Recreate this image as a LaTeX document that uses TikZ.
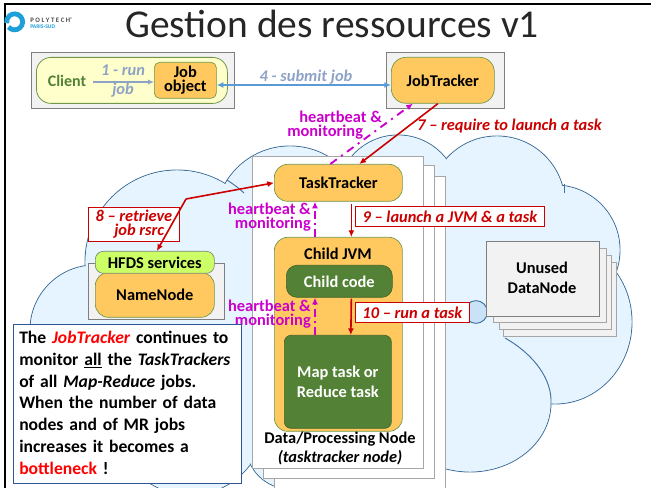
\documentclass[tikz,border=0pt]{standalone}
\usepackage{fontspec}
\setmainfont{Carlito}
\usetikzlibrary{arrows.meta, positioning}
\definecolor{cloudfill}{RGB}{229,244,255}
\definecolor{cloudline}{RGB}{65,113,156}
\definecolor{greyfill}{RGB}{242,242,242}
\definecolor{greyline}{RGB}{127,127,127}
\definecolor{sheetline}{RGB}{166,166,166}
\definecolor{jobyellow}{RGB}{255,201,95}
\definecolor{boxgreen}{RGB}{112,151,74}
\definecolor{darkgreen}{RGB}{83,129,53}
\definecolor{paleyellow}{RGB}{255,255,204}
\definecolor{limegreen}{RGB}{204,255,102}
\definecolor{stepblue}{RGB}{142,162,198}
\definecolor{linkblue}{RGB}{91,155,213}
\definecolor{stepred}{RGB}{204,0,0}
\definecolor{beat}{RGB}{204,0,204}
\definecolor{noteline}{RGB}{47,85,151}
\definecolor{polyblue}{RGB}{29,159,217}
\tikzset{
	sz/.style 2 args={minimum width=#1*0.75pt,minimum height=#2*0.75pt,inner sep=0pt,anchor=north west},
	lab/.style={font=\fontsize{12.3}{15}\selectfont\bfseries,align=center,inner sep=0pt},
	greybox/.style={draw=greyline,fill=greyfill,line width=0.7pt},
	sheet/.style={draw=sheetline,fill=white,line width=0.9pt},
	jobbox/.style={draw=boxgreen,fill=jobyellow,rounded corners=10pt,line width=0.5pt,lab},
	codebox/.style={draw=darkgreen!80!black,fill=darkgreen,text=white,rounded corners=8pt,line width=0.5pt,lab},
	steptext/.style={font=\fontsize{12.3}{15}\selectfont\bfseries\itshape,text=stepblue,inner sep=0pt},
	redtext/.style={font=\fontsize{12.3}{10.5}\selectfont\bfseries\itshape,text=stepred,inner sep=0pt,align=center},
	redbox/.style={redtext,draw=stepred,fill=white,line width=0.6pt},
	beattext/.style={font=\fontsize{12.3}{10.5}\selectfont\bfseries,text=beat,inner sep=0pt},
	redarrow/.style={draw=stepred,line width=1.2pt,-{Latex[length=5pt,width=4.5pt]}},
	beatarrow/.style={draw=beat,line width=1.4pt,-{Latex[length=5pt,width=4.5pt]}},
}
\begin{document}
\begin{tikzpicture}[x=0.75pt,y=-0.75pt]
	\useasboundingbox (0,0) rectangle (651,488);
	\clip (0,0) rectangle (651,488);
	%----------------------------------------------------------------
	% cloud: outline of every lobe first, then the fill over it
	\foreach \cx/\cy/\rx/\ry in {177/262/92/92, 95/330/65/65, 290/221/75/75, 398/196/61/61, 497/204/68/68, 555/250/65/65, 555/322/77/82, 470/403/81/69, 190/420/75/75, 290/445/44/44}
		\draw[cloudline,line width=0.7pt] (\cx,\cy) ellipse [x radius=\rx,y radius=\ry];
	\foreach \cx/\cy/\rx/\ry in {177/262/92/92, 95/330/65/65, 290/221/75/75, 398/196/61/61, 497/204/68/68, 555/250/65/65, 555/322/77/82, 470/403/81/69, 190/420/75/75, 290/445/44/44}
		\fill[cloudfill] (\cx,\cy) ellipse [x radius=\rx-0.6,y radius=\ry-0.6];
	\fill[cloudfill] (120,300) rectangle (540,395);
	\fill[cloudfill] (230,200) rectangle (560,300);
	\draw[cloudline,line width=0.7pt] (227,180) .. controls (233,184) and (239,188) .. (244,193);
	\draw[cloudline,line width=0.7pt] (564,184) -- (564,193);
	\draw[cloudline,line width=0.7pt] (505,338) .. controls (535,355) and (552,380) .. (551,403);
	\draw[line width=1.6pt] (5,488) -- (5,4) -- (651,4);
	%----------------------------------------------------------------
	% logo and title
	\draw[polyblue,line width=3.6pt] (8.5,27) arc [start angle=140,end angle=-190,radius=8];
	\node(polytech) [inner sep=0pt,anchor=west,font=\fontsize{5.1}{6}\selectfont\bfseries,text=black!70] at (30,20.5) {P O L Y T E C H'};
	\node(parissud) [inner sep=0pt,anchor=west,font=\fontsize{4.2}{5}\selectfont\bfseries,text=polyblue] at (30,26.5) {PARIS-SUD};
	\node(title) [inner sep=0pt,text=black!85,font=\fontsize{29.6}{32}\selectfont] at (332,24) {Gestion des ressources v1};
	%----------------------------------------------------------------
	\node(clientbg) [greybox,sz={203}{56}] at (31,52) {};
	\node(clientbox) [draw=boxgreen,fill=paleyellow,rounded corners=11pt,line width=0.6pt,sz={191}{46}] at (36,57) {};
	\node(client) [lab,text=darkgreen,font=\fontsize{12}{14}\selectfont\bfseries] at (67,81) {Client};
	\node(jobobject) [jobbox,rounded corners=4pt,sz={62}{36}] at (154,62) {Job\\[-4.5pt]object};
	\node(run) [steptext] at (123,70) {1 - run};
	\node(job) [steptext] at (123,90) {job};
	\coordinate (clientout) at (93,82);
	\draw[stepblue,line width=1pt,-{Latex[length=4.5pt,width=4pt]}] (clientout) -- (clientout -| jobobject.west);
	
	\node(jobtrackerbg) [greybox,sz={118}{56}] at (386,52) {};
	\node(jobtracker) [jobbox,rounded corners=11pt,sz={103}{46}] at (391,57) {JobTracker};
	\draw[linkblue,line width=1.1pt,{Latex[length=5pt,width=4.5pt]}-{Latex[length=5pt,width=4.5pt]}] (jobobject.east |- 0,85) -- (jobtracker.west |- 0,85);
	\node(submit) [steptext] at (306,77) {4 - submit job};
	%---------------------------------------------------------------
	% stacked processing nodes
	\node(sheetc) [sheet,sz={171}{330}] at (274,176) {};
	\node(sheetb) [sheet,sz={171}{313}] at (263,165) {};
	\node(sheeta) [sheet,sz={171}{312}] at (252,156) {};
	
	\node(tasktracker) [jobbox,sz={128}{37}] at (274,164) {TaskTracker};
	\node(childjvm) [jobbox,sz={128}{194}] at (274,237) {};
	\node(childlabel) [lab] at (338,254) {Child JVM};
	\node(childcode) [codebox,sz={106}{32}] at (286,265) {Child code};
	\node(maptask) [codebox,rounded corners=5pt,sz={107}{93}] at (284,335) {Map task or\\Reduce task};
	\node(datanode) [lab,anchor=north] at (340,432) {Data/Processing Node\\[-0.75pt]\itshape (tasktracker node)};
	%---------------------------------------------------------------
	% unused data nodes
	\node(bubble) [circle,draw=cloudline,fill=cloudfill!80!linkblue,line width=0.7pt,minimum size=17pt,inner sep=0pt] at (476,312) {};
	\node(unusedd) [greybox,draw=sheetline,line width=0.9pt,sz={113}{74}] at (503,262) {};
	\node(unusedc) [greybox,draw=sheetline,line width=0.9pt,sz={112}{74}] at (499,255) {};
	\node(unusedb) [greybox,draw=sheetline,line width=0.9pt,sz={113}{74}] at (493,248) {};
	\node(unuseda) [greybox,sz={113}{75}] at (486,241) {};
	\node(unusedlabel) [lab] at (542,278) {Unused\\DataNode};
	%---------------------------------------------------------------
	% name node
	\node(hfdsbg) [greybox,sz={136}{56}] at (88,263) {};
	\node(namenode) [jobbox,sz={119}{45}] at (95,272) {NameNode};
	\node(hfds) [draw=greyline!80!boxgreen,fill=limegreen,rounded corners=6pt,line width=0.5pt,lab,sz={119}{22}] at (95,251) {HFDS services};
	%---------------------------------------------------------------
	% red steps
	\node(seven) [redtext,anchor=west] at (417,126) {7 – require to launch a task};
	\draw[redarrow] ([xshift=-5*0.75pt]jobtracker.south) -- ([xshift=21*0.75pt]tasktracker.north);
	
	\coordinate (bend) at (186,199);
	\node(eight) [redbox,sz={91}{34}] at (88,207) {};
	\node(eightlabel) [redtext,anchor=center] at (eight.center) {8 – retrieve\\\hspace*{8pt}job rsrc};
	\draw[redarrow] (bend) -- (tasktracker.west);
	\draw[redarrow] (bend) -- ([xshift=2*0.75pt]hfds.north);
	
	\node(nine) [redbox,sz={189}{20}] at (355,206) {9 – launch a JVM \& a task};
	\draw[redarrow] ([xshift=13*0.75pt]tasktracker.south) ++(0,2) -- ([xshift=13*0.75pt]childjvm.north);
	\node(ten) [redbox,sz={114}{20}] at (355,302) {10 – run a task};
	\draw[redarrow] ([xshift=13*0.75pt]childcode.south) ++(-1,1) -- ([xshift=13*0.75pt,yshift=0pt]maptask.north);
	%---------------------------------------------------------------
	% heartbeats
	\node(beata) [beattext,anchor=north west,align=left] at (287,111) {\hspace*{9pt}heartbeat \&\\monitoring};
	\draw[beatarrow,dash pattern=on 6pt off 4pt on 1.5pt off 4pt] ([xshift=-8*0.75pt]tasktracker.north) -- ([xshift=-30*0.75pt]jobtracker.south);
	\node(beatb) [beattext,anchor=north east,align=right] at (311,203) {heartbeat \&\\monitoring};
	\draw[beatarrow,dash pattern=on 6pt off 3pt on 1.5pt off 3pt] (childjvm.north -| 315,0) -- (tasktracker.south -| 315,0);
	\node(beatc) [beattext,anchor=north east,align=right] at (311,300) {heartbeat \&\\monitoring};
	\draw[beatarrow,dash pattern=on 6pt off 3pt on 1.5pt off 3pt] (maptask.north -| 315,0) -- (childcode.south -| 315,0);
	%----------------------------------------------------------
	\node(note) [draw=noteline,fill=white,line width=1pt,sz={228}{159}] at (13,324) {};
	\node(notetext) [anchor=north west,inner sep=0pt,text width=225*0.75pt,align=left,font=\fontsize{13.2}{16.3}\selectfont\bfseries] at (19,331) {The {\color{red}\itshape JobTracker} continues to\\
		monitor \underline{all} the {\itshape TaskTrackers}\\
		of all {\itshape Map-Reduce} jobs.\\
		When the number of data\\
		nodes and of MR jobs\\
		increases it becomes a\\
		{\color{red}bottleneck} !};
\end{tikzpicture}
\end{document}
